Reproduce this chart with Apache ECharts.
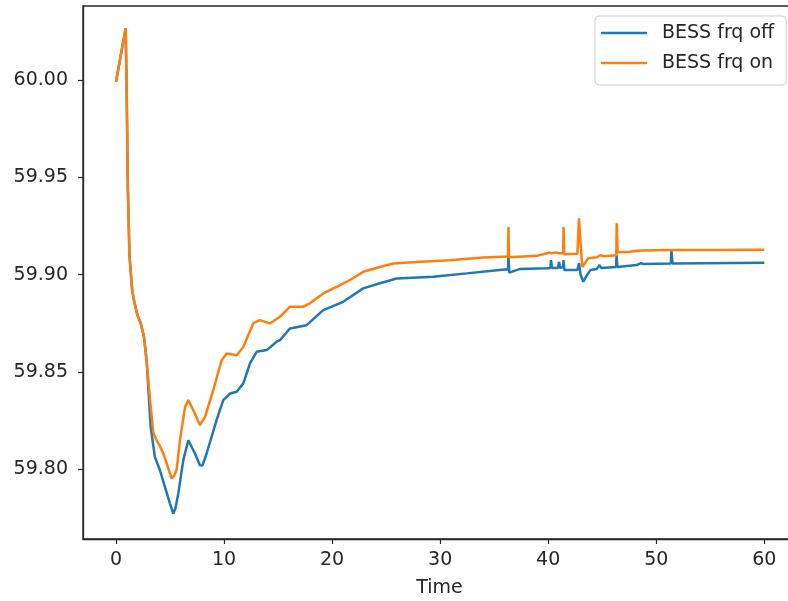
<!DOCTYPE html>
<html>
<head>
<meta charset="utf-8">
<script src="https://cdn.jsdelivr.net/npm/echarts@6/dist/echarts.min.js"></script>
<style>
  html, body { margin: 0; padding: 0; background: #fff; }
  #chart { width: 788px; height: 601px; }
</style>
</head>
<body>
<div id="chart"></div>
<script>
// Grid frequency (Hz) over time (s), with and without BESS frequency support
const seriesNames = ['BESS frq off', 'BESS frq on'];

const freqOff = [
  [0, 59.999], [0.9, 60.0266], [1.0, 59.99], [1.1, 59.945], [1.25, 59.91], [1.5, 59.892],
  [1.7, 59.886], [2.0, 59.879], [2.3, 59.875], [2.6, 59.868], [2.85, 59.855], [3.21, 59.822],
  [3.6, 59.8065], [4.07, 59.7996], [4.53, 59.7911], [5.0, 59.7825], [5.3, 59.7774], [5.5, 59.780],
  [5.77, 59.7877], [6.23, 59.8048], [6.7, 59.815], [7.31, 59.8082], [7.77, 59.8022], [8.0, 59.802],
  [8.39, 59.8082], [9.31, 59.8253], [9.93, 59.8356], [10.55, 59.839], [11.17, 59.8399], [11.79, 59.8442],
  [12.4, 59.8545], [13.02, 59.8604], [13.95, 59.8613], [14.87, 59.8656], [15.18, 59.8664], [16.1, 59.8724],
  [17.65, 59.8741], [19.18, 59.8818], [21.03, 59.8861], [22.88, 59.893], [24.43, 59.8956], [25.97, 59.8981],
  [29.37, 59.899], [32.45, 59.9007], [35.5, 59.9024], [36.28, 59.9028], [36.32, 59.9101], [36.4, 59.9011],
  [37.4, 59.903], [39.86, 59.9033], [40.2, 59.9035], [40.26, 59.9075], [40.35, 59.9035], [40.9, 59.9035],
  [41.0, 59.9066], [41.1, 59.9035], [41.38, 59.904], [41.42, 59.9075], [41.5, 59.9024], [42.7, 59.9024],
  [42.85, 59.906], [43.0, 59.900], [43.25, 59.8964], [43.5, 59.899], [43.9, 59.9024], [44.5, 59.903],
  [44.75, 59.905], [44.9, 59.9035], [46.28, 59.904], [46.32, 59.9101], [46.4, 59.904], [48.18, 59.905],
  [48.6, 59.906], [48.7, 59.9065], [48.8, 59.9055], [51.35, 59.9058], [51.4, 59.9127], [51.5, 59.9058],
  [60, 59.9061]
];

const freqOn = [
  [0, 59.999], [0.9, 60.0266], [1.0, 59.99], [1.1, 59.945], [1.25, 59.91], [1.5, 59.892],
  [1.7, 59.886], [2.0, 59.879], [2.3, 59.875], [2.6, 59.868], [2.85, 59.855], [3.15, 59.836],
  [3.45, 59.819], [3.76, 59.815], [4.07, 59.812], [4.4, 59.808], [4.7, 59.803], [5.15, 59.7954],
  [5.4, 59.797], [5.62, 59.800], [5.92, 59.815], [6.39, 59.832], [6.7, 59.8356], [7.15, 59.8305],
  [7.77, 59.8228], [8.24, 59.827], [9.0, 59.8407], [9.78, 59.8561], [10.25, 59.8596], [11.17, 59.8587],
  [11.79, 59.863], [12.7, 59.875], [13.3, 59.8767], [14.25, 59.875], [15.18, 59.8784], [16.1, 59.8836],
  [17.34, 59.8836], [17.95, 59.8853], [19.18, 59.8904], [20.42, 59.8938], [21.65, 59.8973], [22.88, 59.9015],
  [24.43, 59.904], [25.66, 59.9058], [27.83, 59.9066], [30.9, 59.9075], [33.99, 59.9088], [36.28, 59.9094],
  [36.32, 59.9245], [36.38, 59.909], [39.0, 59.9098], [39.9, 59.911], [40.1, 59.9113], [40.3, 59.911],
  [40.7, 59.9115], [41.0, 59.911], [41.38, 59.911], [41.42, 59.9245], [41.48, 59.9105], [42.7, 59.9108],
  [42.85, 59.929], [42.95, 59.92], [43.15, 59.904], [43.4, 59.906], [43.7, 59.9084], [44.5, 59.909],
  [44.8, 59.910], [45.2, 59.9095], [46.3, 59.910], [46.34, 59.9264], [46.42, 59.9115], [47.57, 59.9118],
  [48.5, 59.9125], [51.2, 59.9127], [51.35, 59.9135], [51.5, 59.9127], [55.3, 59.9127], [60, 59.9128]
];

const xTicks = [0, 10, 20, 30, 40, 50, 60];
const yTicks = [59.80, 59.85, 59.90, 59.95, 60.00];

const FONT = 'DejaVu Sans';
const FONT_SIZE = 19;
const INK = '#262626';

const chart = echarts.init(document.getElementById('chart'), null, { renderer: 'canvas' });
chart.setOption({
  animation: false,
  backgroundColor: '#ffffff',
  grid: {
    left: 83, top: 6, width: 713, height: 533,
    outerBoundsMode: 'none',
    containLabel: false,
    show: true, borderColor: INK, borderWidth: 1.3, backgroundColor: 'transparent'
  },
  legend: {
    data: seriesNames,
    orient: 'vertical',
    left: 595, top: 16,
    icon: 'rect',
    itemWidth: 46, itemHeight: 2.6,
    itemGap: 8,
    padding: [6, 12, 11, 6],
    backgroundColor: 'rgba(255,255,255,0.85)',
    borderColor: '#d0d0d0', borderWidth: 1, borderRadius: 4,
    textStyle: { fontFamily: FONT, fontSize: FONT_SIZE, color: INK, lineHeight: 22, padding: [0, 0, 0, 10] }
  },
  xAxis: {
    type: 'value',
    min: -3.05, max: 62.93,
    name: 'Time', nameLocation: 'middle', nameGap: 40,
    nameTextStyle: { fontFamily: FONT, fontSize: FONT_SIZE, color: INK },
    axisLine: { show: true, onZero: false, lineStyle: { color: INK, width: 1.3 } },
    axisTick: { show: true, length: 5, lineStyle: { color: INK, width: 1.2 }, customValues: xTicks },
    axisLabel: { fontFamily: FONT, fontSize: FONT_SIZE, color: INK, margin: 12, customValues: xTicks },
    splitLine: { show: false }
  },
  yAxis: {
    type: 'value',
    min: 59.7643, max: 60.038,
    axisLine: { show: true, onZero: false, lineStyle: { color: INK, width: 1.3 } },
    axisTick: { show: true, length: 5, lineStyle: { color: INK, width: 1.2 }, customValues: yTicks },
    axisLabel: {
      fontFamily: FONT, fontSize: FONT_SIZE, color: INK, margin: 15, customValues: yTicks,
      formatter: v => v.toFixed(2)
    },
    splitLine: { show: false }
  },
  series: [
    {
      name: seriesNames[0], type: 'line', data: freqOff, symbol: 'none',
      itemStyle: { color: '#1f77b4' },
      lineStyle: { color: '#1f77b4', width: 2.5 }
    },
    {
      name: seriesNames[1], type: 'line', data: freqOn, symbol: 'none',
      itemStyle: { color: '#ff7f0e' },
      lineStyle: { color: '#ff7f0e', width: 2.5 }
    }
  ]
});
</script>
</body>
</html>
